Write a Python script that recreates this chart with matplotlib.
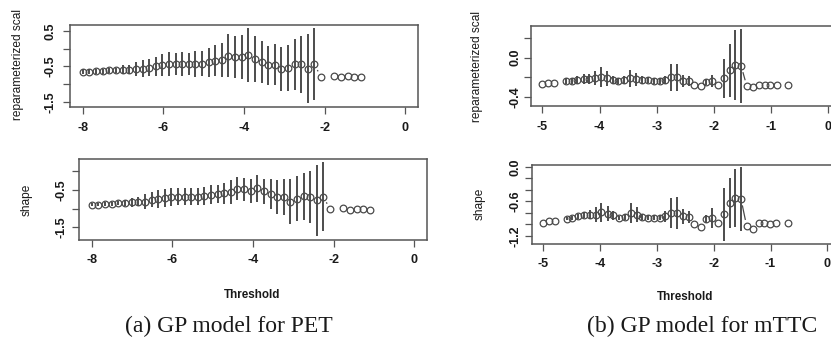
import numpy as np
import matplotlib.pyplot as plt

plt.rcParams['font.family'] = ['Liberation Sans', 'DejaVu Sans']
plt.rcParams['axes.unicode_minus'] = False

# thresholds tried by the fit-range routine (nan in estimates = fit failed)
pet_u = [-8.00, -7.84, -7.67, -7.51, -7.34, -7.18, -7.01, -6.85, -6.69, -6.52,
         -6.36, -6.19, -6.03, -5.86, -5.70, -5.54, -5.37, -5.21, -5.04, -4.88,
         -4.71, -4.55, -4.39, -4.22, -4.06, -3.89, -3.73, -3.56, -3.40, -3.24,
         -3.07, -2.91, -2.74, -2.58, -2.41, -2.25, -2.09, -1.92, -1.76, -1.59,
         -1.43, -1.26, -1.10]
nan = np.nan
pet_scale = [-0.65, -0.65, -0.63, -0.63, -0.61, -0.61, -0.59, -0.59, -0.57, -0.56,
             -0.53, -0.50, -0.46, -0.43, -0.43, -0.43, -0.43, -0.43, -0.42, -0.38,
             -0.34, -0.31, -0.19, -0.23, -0.23, -0.17, -0.28, -0.38, -0.47, -0.45,
             -0.58, -0.54, -0.44, -0.44, -0.56, -0.44, -0.80, nan, -0.76, -0.79,
             -0.77, -0.79, -0.79]
pet_scale_ci = [0.07, 0.07, 0.07, 0.07, 0.08, 0.08, 0.12, 0.12, 0.21, 0.23,
                0.25, 0.28, 0.31, 0.33, 0.32, 0.33, 0.32, 0.36, 0.35, 0.41,
                0.44, 0.48, 0.60, 0.60, 0.62, 0.76, 0.65, 0.60, 0.55, 0.58,
                0.62, 0.66, 0.72, 0.80, 0.98, 1.02, nan, nan, nan, nan,
                nan, nan, nan]
pet_shape = [-0.89, -0.89, -0.87, -0.87, -0.85, -0.85, -0.83, -0.82, -0.81, -0.76,
             -0.74, -0.72, -0.69, -0.68, -0.68, -0.68, -0.68, -0.67, -0.63, -0.61,
             -0.59, -0.56, -0.47, -0.49, -0.52, -0.46, -0.54, -0.61, -0.69, -0.69,
             -0.81, -0.74, -0.67, -0.69, -0.78, -0.68, -1.02, nan, -0.98, -1.04,
             -1.02, -1.02, -1.04]
pet_shape_ci = [0.05, 0.05, 0.05, 0.06, 0.06, 0.07, 0.12, 0.12, 0.19, 0.20,
                0.23, 0.23, 0.23, 0.23, 0.23, 0.22, 0.22, 0.24, 0.25, 0.25,
                0.28, 0.31, 0.30, 0.31, 0.32, 0.36, 0.34, 0.40, 0.44, 0.48,
                0.60, 0.60, 0.62, 0.69, 0.95, 0.91, nan, nan, nan, nan,
                nan, nan, nan]

mttc_u = [-5.00, -4.90, -4.80, -4.69, -4.59, -4.49, -4.39, -4.28, -4.18, -4.08,
          -3.98, -3.87, -3.77, -3.67, -3.57, -3.46, -3.36, -3.26, -3.16, -3.05,
          -2.95, -2.85, -2.75, -2.64, -2.54, -2.44, -2.34, -2.23, -2.13, -2.03,
          -1.93, -1.82, -1.72, -1.62, -1.52, -1.42, -1.31, -1.21, -1.11, -1.01,
          -0.90, -0.80, -0.70]
mttc_scale = [-0.27, -0.26, -0.26, nan, -0.24, -0.24, -0.23, -0.22, -0.22, -0.21,
              -0.20, -0.21, -0.23, -0.24, -0.23, -0.21, -0.22, -0.23, -0.23, -0.24,
              -0.24, -0.23, -0.20, -0.20, -0.24, -0.24, -0.28, -0.29, -0.25, -0.24,
              -0.28, -0.21, -0.13, -0.075, -0.085, -0.29, -0.30, -0.28, -0.28, -0.28,
              -0.28, nan, -0.28]
mttc_scale_ci = [nan, nan, nan, nan, 0.03, 0.03, 0.04, 0.05, 0.05, 0.07,
                 0.10, 0.075, 0.04, 0.03, 0.04, 0.085, 0.065, 0.04, 0.03, 0.03,
                 0.03, 0.04, 0.14, 0.14, 0.06, 0.05, nan, nan, 0.03, 0.06,
                 nan, 0.20, 0.27, 0.35, 0.37, nan, nan, nan, nan, nan,
                 nan, nan, nan]
mttc_shape = [-0.97, -0.94, -0.94, nan, -0.90, -0.89, -0.86, -0.84, -0.83, -0.83,
              -0.79, -0.81, -0.84, -0.89, -0.87, -0.80, -0.83, -0.87, -0.88, -0.88,
              -0.88, -0.86, -0.80, -0.80, -0.86, -0.87, -1.00, -1.04, -0.91, -0.89,
              -0.98, -0.82, -0.63, -0.54, -0.56, -1.03, -1.08, -0.98, -0.98, -0.99,
              -0.98, nan, -0.98]
mttc_shape_ci = [nan, nan, nan, nan, 0.03, 0.03, 0.04, 0.05, 0.08, 0.13,
                 0.17, 0.13, 0.08, 0.04, 0.05, 0.17, 0.13, 0.05, 0.04, 0.04,
                 0.04, 0.09, 0.26, 0.28, 0.13, 0.10, nan, nan, 0.07, 0.17,
                 nan, 0.46, 0.43, 0.50, 0.56, nan, nan, nan, nan, nan,
                 nan, nan, nan]

W, H = 831, 338
fig = plt.figure(figsize=(W / 100, H / 100), dpi=100)

BOX = '#555555'
MARK = '#4a4a4a'
TXT = '#1a1a1a'


def add_axes(l, t, r, b):
    return fig.add_axes([l / W, 1 - b / H, (r - l) / W, (b - t) / H])


def draw_panel(ax, u, est, ci, xlim, ylim, xticks, yticks, ylabels, ypad):
    u = np.array(u)
    est = np.array(est)
    ci = np.array(ci)
    ax.set_xlim(*xlim)
    ax.set_ylim(*ylim)

    ok = ~np.isnan(ci)
    ax.vlines(u[ok], est[ok] - ci[ok], est[ok] + ci[ok], color='#2e2e2e', lw=1.2)
    ax.plot(u, est, 'o', ms=4.8, mfc='none', mec=MARK, mew=0.9)

    # R type="b": segments between points, with a gap around each symbol
    gap = 7.0
    pts = ax.transData.transform(np.column_stack([u, est]))
    inv = ax.transData.inverted()
    for p0, p1 in zip(pts[:-1], pts[1:]):
        if np.isnan(p0).any() or np.isnan(p1).any():
            continue
        d = p1 - p0
        L = np.hypot(d[0], d[1])
        if L <= 2 * gap:
            continue
        seg = inv.transform([p0 + d * gap / L, p1 - d * gap / L])
        ax.plot(seg[:, 0], seg[:, 1], color=MARK, lw=0.9)

    ax.set_xticks(xticks)
    ax.set_xticklabels([f'{t:g}' for t in xticks], fontweight='bold')
    ax.set_yticks(yticks)
    ax.set_yticklabels(ylabels, rotation=90, va='center', fontweight='bold')
    ax.tick_params(axis='both', direction='out', length=5, width=0.9,
                   color=BOX, labelsize=9, labelcolor=TXT)
    ax.tick_params(axis='x', pad=5.5)
    ax.tick_params(axis='y', pad=ypad)
    for s in ax.spines.values():
        s.set_color(BOX)
        s.set_linewidth(1.1)


ax1 = add_axes(70, 24.5, 418, 107)
draw_panel(ax1, pet_u, pet_scale, pet_scale_ci, (-8.32, 0.32), (-1.65, 0.69),
           [-8, -6, -4, -2, 0], [0.5, 0, -0.5, -1, -1.5],
           ['0.5', '', '-0.5', '', '-1.5'], 5)

ax2 = add_axes(79, 159, 427, 239.5)
draw_panel(ax2, pet_u, pet_shape, pet_shape_ci, (-8.32, 0.32), (-1.82, 0.32),
           [-8, -6, -4, -2, 0], [0, -0.5, -1, -1.5],
           ['', '-0.5', '', '-1.5'], 3.5)

ax3 = add_axes(531, 26, 839.4, 106)
draw_panel(ax3, mttc_u, mttc_scale, mttc_scale_ci, (-5.2, 0.2), (-0.487, 0.317),
           [-5, -4, -3, -2, -1, 0], [0.2, 0.0, -0.2, -0.4],
           ['', '0.0', '', '-0.4'], 1.5)

ax4 = add_axes(532, 164.5, 838.7, 243.5)
draw_panel(ax4, mttc_u, mttc_shape, mttc_shape_ci, (-5.2, 0.2), (-1.33, 0.04),
           [-5, -4, -3, -2, -1, 0], [0.0, -0.2, -0.4, -0.6, -0.8, -1.0, -1.2],
           ['0.0', '', '', '-0.6', '', '', '-1.2'], 2.5)

# axis titles
def ftext(x, y, s, **kw):
    fig.text(x / W, 1 - y / H, s, color=TXT, **kw)

ftext(18, 64, 'reparameterized scal', rotation=90, ha='center', va='center', fontsize=8.6)
ftext(27, 200, 'shape', rotation=90, ha='center', va='center', fontsize=8.6)
ftext(477, 66, 'reparameterized scal', rotation=90, ha='center', va='center', fontsize=8.6)
ftext(480, 204, 'shape', rotation=90, ha='center', va='center', fontsize=8.6)
ftext(252, 295, 'Threshold', ha='center', va='center', fontsize=8.4, fontweight='bold')
ftext(685, 296.5, 'Threshold', ha='center', va='center', fontsize=8.4, fontweight='bold')

# captions
ftext(229, 326, '(a) GP model for PET', ha='center', va='center', fontsize=17,
      family=['Liberation Serif', 'DejaVu Serif'])
ftext(702, 326, '(b) GP model for mTTC', ha='center', va='center', fontsize=17,
      family=['Liberation Serif', 'DejaVu Serif'])

fig.savefig('out.png', dpi=100)
